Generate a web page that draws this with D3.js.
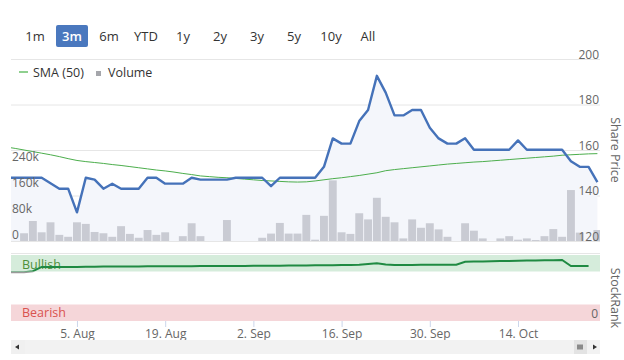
<!DOCTYPE html>
<html>
<head>
<meta charset="utf-8">
<script src="https://cdn.jsdelivr.net/npm/d3@7"></script>
<style>
  html, body { margin: 0; padding: 0; background: #fff; }
  svg { display: block; font-family: 'Open Sans', 'DejaVu Sans', sans-serif; }
</style>
</head>
<body>
<svg id="chart" width="624" height="360"></svg>
<script>
// ---------- DATA ----------
const dates = [
  "2019-07-24","2019-07-25","2019-07-26","2019-07-29","2019-07-30","2019-07-31",
  "2019-08-01","2019-08-02","2019-08-05","2019-08-06","2019-08-07","2019-08-08","2019-08-09",
  "2019-08-12","2019-08-13","2019-08-14","2019-08-15","2019-08-16",
  "2019-08-19","2019-08-20","2019-08-21","2019-08-22","2019-08-23",
  "2019-08-26","2019-08-27","2019-08-28","2019-08-29","2019-08-30",
  "2019-09-02","2019-09-03","2019-09-04","2019-09-05","2019-09-06",
  "2019-09-09","2019-09-10","2019-09-11","2019-09-12","2019-09-13",
  "2019-09-16","2019-09-17","2019-09-18","2019-09-19","2019-09-20",
  "2019-09-23","2019-09-24","2019-09-25","2019-09-26","2019-09-27",
  "2019-09-30","2019-10-01","2019-10-02","2019-10-03","2019-10-04",
  "2019-10-07","2019-10-08","2019-10-09","2019-10-10","2019-10-11",
  "2019-10-14","2019-10-15","2019-10-16","2019-10-17","2019-10-18",
  "2019-10-21","2019-10-22","2019-10-23","2019-10-24","2019-10-25"
];
const sharePrice = [
  147.8,147.8,147.8,147.8,147.8,145.4,143,143,132.6,147.8,
  147,143,145.2,143,143,143,147.8,147.8,145.2,145.2,
  145.2,147.8,147,147,147,147,147.8,147.8,147.8,147.8,
  144.1,147.8,147.8,147.8,147.8,147.8,152.6,165.1,162.8,162.8,
  172.7,177.6,192.6,185.2,175.2,175.2,177.6,177.6,169.8,165.1,
  162.8,162.8,165.2,160.1,160.1,160.1,160.1,160.1,164.2,160.1,
  160.1,160.1,160.1,160.1,155.1,152.6,152.6,145.9
];
const sma50 = [
  161.3,160.7,160.0,159.3,158.6,157.9,157.1,156.2,155.4,154.9,
  154.5,154.1,153.6,153.2,152.7,152.2,151.7,151.2,150.8,150.3,
  149.7,149.2,148.6,148.3,148.0,147.8,147.5,147.2,146.9,146.6,
  146.4,146.2,146.0,145.9,146.0,146.4,146.9,147.4,147.8,148.3,
  148.8,149.4,150.0,150.9,151.4,151.8,152.2,152.6,153.0,153.4,
  153.8,154.1,154.4,154.7,154.9,155.2,155.5,155.8,156.1,156.4,
  156.7,157.0,157.3,157.7,157.9,158.1,158.3,158.4
];
const volume = [
  0,0,24000,62000,27000,58000,19000,13000,58000,53000,
  28000,24000,13000,46000,22000,10000,34000,19000,27000,0,
  15000,55000,15000,0,0,65000,0,0,0,10000,
  23000,56000,23000,23000,81000,4000,78000,188000,27000,22000,
  86000,67000,134000,75000,58000,8000,67000,41000,55000,36000,
  13000,0,55000,32000,8000,0,8000,15000,4000,8000,
  3000,15000,37000,13000,158000,26000,0,34000
];
const stockRank = [
  74,74,74,75.5,82,82,82,82,82,82.2,
  82.3,82.4,82.5,82.5,82.6,82.7,82.8,82.8,82.9,83,
  83,83.1,83.2,83.2,83.3,83.4,83.5,83.5,83.6,83.7,
  83.8,83.9,84,84.1,84.2,84.3,84.4,84.6,84.8,85,
  85.1,86.5,87.4,85.5,85,85,85,85.1,85.1,85.1,
  85.2,85.2,89.8,90,90.2,90.5,90.8,91,91.2,91.5,
  91.7,92,92.2,92.4,83.3,83.3,83.5,null
];
const priceTicks = [120, 140, 160, 180, 200];
const volumeTicks = [0, 80000, 160000, 240000];
const rankTicks = [0];
const tickDates = ["2019-08-05","2019-08-19","2019-09-02","2019-09-16","2019-09-30","2019-10-14"];
const tickLabels = ["5. Aug","19. Aug","2. Sep","16. Sep","30. Sep","14. Oct"];
const rangeButtons = ["1m","3m","6m","YTD","1y","2y","3y","5y","10y","All"];
const selectedRange = "3m";
const bandNames = ["Bullish","Bearish"];
const bandFrom = [75, 0];
const bandTo = [100, 25];
const bullishThreshold = 75;

// ---------- LAYOUT ----------
const svg = d3.select("#chart");
const plotL = 11, plotR = 600;
const priceTop = 59, priceBottom = 241;
const rankTop = 255, rankBottom = 321;

const x = d3.scalePoint().domain(dates).range([6.4, 597.4]);
const yPrice = d3.scaleLinear().domain([120, 200]).range([priceBottom, priceTop]);
const yVol = d3.scaleLinear().domain([0, 280000]).range([priceBottom, 150.7]);
const yRank = d3.scaleLinear().domain([0, 100]).range([rankBottom, rankTop]);

const defs = svg.append("defs");
defs.append("clipPath").attr("id", "plotClip")
  .append("rect").attr("x", plotL).attr("y", 0).attr("width", plotR - plotL).attr("height", 360);
defs.append("clipPath").attr("id", "aboveT")
  .append("rect").attr("x", plotL).attr("y", 0).attr("width", plotR - plotL).attr("height", yRank(bullishThreshold));
defs.append("clipPath").attr("id", "belowT")
  .append("rect").attr("x", plotL).attr("y", yRank(bullishThreshold)).attr("width", plotR - plotL).attr("height", 360);

// ---------- RANGE SELECTOR ----------
const btnX = d3.scalePoint().domain(rangeButtons).range([35, 368]);
const rs = svg.append("g");
rs.selectAll("rect").data(rangeButtons.filter(d => d === selectedRange)).join("rect")
  .attr("x", d => btnX(d) - 16).attr("y", 25).attr("width", 32).attr("height", 22)
  .attr("rx", 2).attr("fill", "#4a78be");
rs.selectAll("text").data(rangeButtons).join("text")
  .attr("x", d => btnX(d)).attr("y", 41).attr("text-anchor", "middle")
  .attr("font-size", 13)
  .attr("font-weight", d => d === selectedRange ? 600 : "normal")
  .attr("fill", d => d === selectedRange ? "#fff" : "#333")
  .text(d => d);

// ---------- GRID ----------
svg.append("g").selectAll("line").data(priceTicks).join("line")
  .attr("x1", plotL).attr("x2", plotR)
  .attr("y1", d => yPrice(d) + 0.5).attr("y2", d => yPrice(d) + 0.5)
  .attr("stroke", "#e6e6e6");

// ---------- PRICE PANE ----------
const plot = svg.append("g").attr("clip-path", "url(#plotClip)");
const idx = d3.range(dates.length);

plot.append("path")
  .attr("d", d3.area().x(i => x(dates[i])).y0(priceBottom).y1(i => yPrice(sharePrice[i]))(idx))
  .attr("fill", "#f4f6fb");

plot.append("g").selectAll("rect").data(idx.filter(i => volume[i] > 0)).join("rect")
  .attr("x", i => x(dates[i]) - 3.95).attr("width", 7.9)
  .attr("y", i => yVol(volume[i])).attr("height", i => yVol(0) - yVol(volume[i]))
  .attr("fill", "#c9cbd3");

plot.append("path")
  .attr("d", d3.line().x(i => x(dates[i])).y(i => yPrice(sma50[i]))(idx))
  .attr("fill", "none").attr("stroke", "#4cae4c").attr("stroke-width", 1);

plot.append("path")
  .attr("d", d3.line().x(i => x(dates[i])).y(i => yPrice(sharePrice[i]))(idx))
  .attr("fill", "none").attr("stroke", "#4572b9").attr("stroke-width", 2.4)
  .attr("stroke-linejoin", "round");

// price axis labels (right)
const pAxis = svg.append("g").attr("transform", `translate(${plotR},0)`)
  .call(d3.axisLeft(yPrice).tickValues(priceTicks).tickSize(0).tickPadding(1));
pAxis.select(".domain").remove();
pAxis.selectAll("text").attr("dy", -1).attr("fill", "#666").attr("font-size", 12)
  .attr("font-family", "'Open Sans', sans-serif");

// volume axis labels (left, inside)
const vAxis = svg.append("g").attr("transform", `translate(${plotL},0)`)
  .call(d3.axisRight(yVol).tickValues(volumeTicks).tickSize(0).tickPadding(1).tickFormat(d3.format("~s")));
vAxis.select(".domain").remove();
vAxis.selectAll("text").attr("dy", -3).attr("fill", "#666").attr("font-size", 12)
  .attr("font-family", "'Open Sans', sans-serif");

svg.append("text")
  .attr("transform", `translate(611,150) rotate(90)`)
  .attr("text-anchor", "middle").attr("font-size", 12.5).attr("fill", "#666")
  .text("Share Price");

// ---------- LEGEND ----------
const lg = svg.append("g");
lg.append("line").attr("x1", 19).attr("x2", 28).attr("y1", 72).attr("y2", 72)
  .attr("stroke", "#8fd08f").attr("stroke-width", 2);
lg.append("text").attr("x", 33).attr("y", 76.5).attr("font-size", 12.5).attr("fill", "#333").text("SMA (50)");
lg.append("rect").attr("x", 96).attr("y", 71).attr("width", 5).attr("height", 5).attr("fill", "#a5a6ab");
lg.append("text").attr("x", 108).attr("y", 76.5).attr("font-size", 12.5).attr("fill", "#333").text("Volume");

// ---------- STOCKRANK PANE ----------
svg.append("line").attr("x1", plotL).attr("x2", plotR).attr("y1", 253.5).attr("y2", 253.5).attr("stroke", "#e6e6e6");
const bandIdx = d3.range(bandNames.length);
svg.append("g").selectAll("rect").data(bandIdx).join("rect")
  .attr("x", plotL).attr("width", plotR - plotL)
  .attr("y", i => yRank(bandTo[i])).attr("height", i => yRank(bandFrom[i]) - yRank(bandTo[i]))
  .attr("fill", i => i === 0 ? "#d5ecdb" : "#f5d6d9");
svg.append("g").selectAll("text").data(bandIdx).join("text")
  .attr("x", 22).attr("y", i => (yRank(bandTo[i]) + yRank(bandFrom[i])) / 2 + (i === 0 ? 6 : 4.5))
  .attr("font-size", 12.5)
  .attr("fill", i => i === 0 ? "#4e8f3a" : "#d9534f")
  .text(i => bandNames[i]);

const rankLine = d3.line().defined(i => stockRank[i] != null)
  .x(i => x(dates[i])).y(i => yRank(stockRank[i]));
const rp = svg.append("g").attr("clip-path", "url(#plotClip)");
rp.append("g").attr("clip-path", "url(#belowT)").append("path")
  .attr("d", rankLine(idx)).attr("fill", "none").attr("stroke", "#999").attr("stroke-width", 2);
rp.append("g").attr("clip-path", "url(#aboveT)").append("path")
  .attr("d", rankLine(idx)).attr("fill", "none").attr("stroke", "#1f8a42").attr("stroke-width", 2);

const rAxis = svg.append("g").attr("transform", `translate(${plotR},0)`)
  .call(d3.axisLeft(yRank).tickValues(rankTicks).tickSize(0).tickPadding(2));
rAxis.select(".domain").remove();
rAxis.selectAll("text").attr("dy", -4).attr("fill", "#666").attr("font-size", 12)
  .attr("font-family", "'Open Sans', sans-serif");

svg.append("text")
  .attr("transform", `translate(611,298) rotate(90)`)
  .attr("text-anchor", "middle").attr("font-size", 12.5).attr("fill", "#666")
  .text("StockRank");

// ---------- X AXIS ----------
const xAxis = svg.append("g").attr("transform", `translate(0,${rankBottom})`)
  .call(d3.axisBottom(x).tickValues(tickDates).tickSize(6).tickPadding(2)
    .tickFormat(d => tickLabels[tickDates.indexOf(d)]));
xAxis.select(".domain").remove();
xAxis.selectAll("line").attr("stroke", "#ccd6eb");
xAxis.selectAll("text").attr("fill", "#666").attr("font-size", 12)
  .attr("font-family", "'Open Sans', sans-serif");

// ---------- SCROLLBAR ----------
const sb = svg.append("g");
sb.append("rect").attr("x", plotL).attr("y", 340).attr("width", plotR - plotL).attr("height", 14).attr("fill", "#f2f2f2");
sb.append("rect").attr("x", plotL).attr("y", 340).attr("width", 14).attr("height", 14).attr("fill", "#f0f0f0");
sb.append("path").attr("d", "M15,347 L19,344.5 L19,349.5 Z").attr("fill", "#333");
sb.append("rect").attr("x", 574).attr("y", 340).attr("width", 13).attr("height", 14).attr("fill", "#e3e3e3");
sb.append("path").attr("d", "M578,344.5 V349.5 M580,344.5 V349.5 M582,344.5 V349.5")
  .attr("stroke", "#333").attr("stroke-width", 1);
sb.append("path").attr("d", "M597,347 L593,344.5 L593,349.5 Z").attr("fill", "#333");
</script>
</body>
</html>
